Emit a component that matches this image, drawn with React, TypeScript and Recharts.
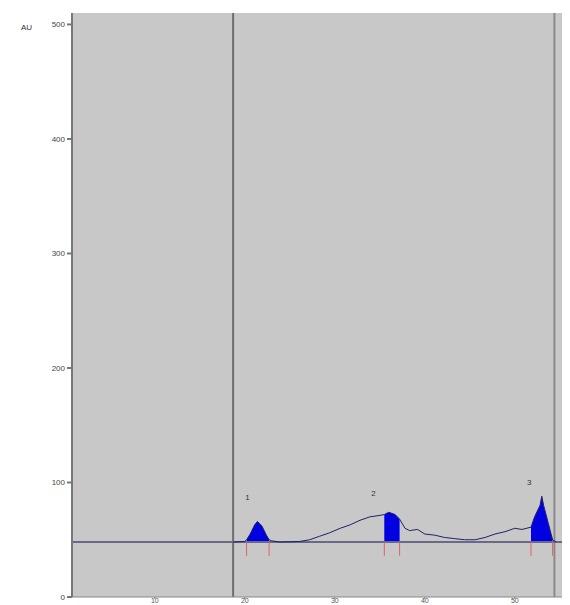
import { Area, CartesianGrid, ComposedChart, Line, ReferenceDot, ReferenceLine, XAxis, YAxis } from "recharts";

// scan position (mm) and detector response (AU)
const positions = [18.7, 20.0, 20.2, 20.6, 21.1, 21.4, 21.9, 22.4, 22.7, 23.0, 23.9, 26.1, 27.2, 28.3, 29.4, 30.6, 31.7, 32.8, 33.9, 34.8, 35.5, 36.0, 36.7, 37.2, 37.8, 38.3, 39.2, 40.0, 41.1, 42.2, 43.3, 44.4, 45.6, 46.7, 47.8, 48.9, 50.0, 50.8, 51.8, 52.2, 52.8, 53.0, 53.2, 53.7, 54.2, 54.6];
const response = [48, 48.5, 50, 55, 63, 66, 62, 54, 50, 49, 48, 48.5, 50, 53, 56, 60, 63, 67, 70, 71, 72, 74, 72, 68, 60, 58, 59, 55, 54, 52, 51, 50, 50, 52, 55, 57, 60, 59, 61, 70, 80, 88, 80, 65, 50, 48];

const baseline = 48;
const peakNames = ["1", "2", "3"];
const peakStart = [20.2, 35.5, 51.8];
const peakEnd = [22.7, 37.2, 54.2];
const peakLabelX = [20.3, 34.3, 51.6];
const peakLabelY = [87, 91, 100];

const xTicks = [10, 20, 30, 40, 50];
const yTicks = [0, 100, 200, 300, 400, 500];
const startLine = 18.7;
const frontLine = 54.4;

const data = positions.map((x, i) => {
  const inPeak = peakStart.some((s, k) => x >= s && x <= peakEnd[k]);
  return { x, signal: response[i], peak: inPeak ? response[i] : null };
});

export default function App() {
  return (
    <div style={{ position: "relative", width: 562, height: 605, overflow: "hidden", fontFamily: "Arial, sans-serif" }}>
      <span style={{ position: "absolute", left: 13, top: 15, fontSize: 8, color: "#333" }}>AU</span>
      <ComposedChart width={562} height={605} data={data} margin={{ top: 5, right: 3, left: 0, bottom: 0 }}>
        <CartesianGrid fill="#c8c8c8" horizontal={false} vertical={false} />
        <XAxis type="number" dataKey="x" domain={[0.8, 55.8]} ticks={xTicks} allowDataOverflow height={16}
          tick={{ fontSize: 7, fill: "#555", dy: -3 }} tickSize={2} stroke="#888" />
        <YAxis type="number" domain={[0, 510]} ticks={yTicks} allowDataOverflow width={64}
          tick={{ fontSize: 8, fill: "#444" }} tickSize={5} stroke="#777" strokeWidth={2} />
        <ReferenceLine x={startLine} stroke="#6e6e6e" strokeWidth={2} />
        <ReferenceLine x={frontLine} stroke="#8a8a8a" strokeWidth={2} />
        <ReferenceLine y={baseline} stroke="#6a6a88" strokeWidth={2} />
        <Area type="linear" dataKey="peak" baseValue={baseline} stroke="none" fill="#0000e0" fillOpacity={1} connectNulls={false} isAnimationActive={false} />
        <Line type="linear" dataKey="signal" stroke="#20206a" strokeWidth={1} dot={false} isAnimationActive={false} />
        {peakStart.map((s, i) => (
          <ReferenceLine key={"s" + i} segment={[{ x: s, y: baseline }, { x: s, y: 36 }]} stroke="#e06060" strokeWidth={1} />
        ))}
        {peakEnd.map((e, i) => (
          <ReferenceLine key={"e" + i} segment={[{ x: e, y: baseline }, { x: e, y: 36 }]} stroke="#e06060" strokeWidth={1} />
        ))}
        {peakNames.map((n, i) => (
          <ReferenceDot key={n} x={peakLabelX[i]} y={peakLabelY[i]} r={0}
            label={{ value: n, position: "center", fontSize: 8, fill: "#333" }} />
        ))}
      </ComposedChart>
    </div>
  );
}
